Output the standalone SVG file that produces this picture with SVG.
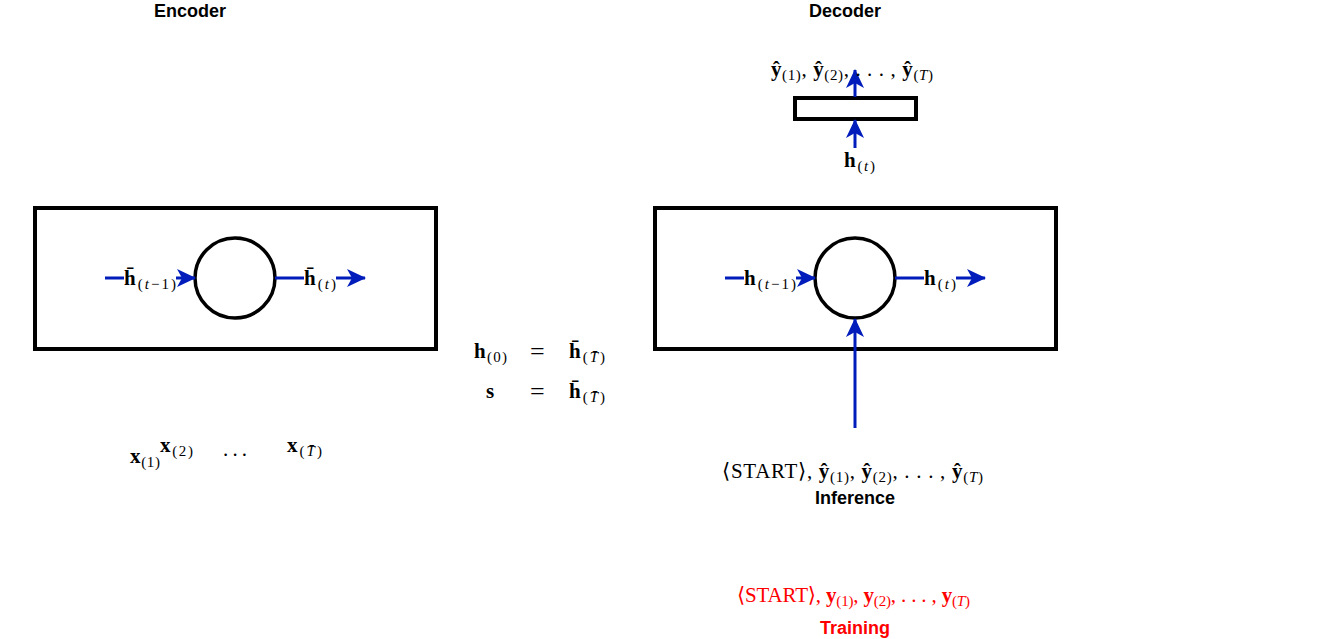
<svg xmlns="http://www.w3.org/2000/svg" width="1321" height="639" viewBox="0 0 1321 639">
<style>
.title{font-family:"Liberation Sans",Arial,sans-serif;font-weight:bold;font-size:18px;text-anchor:middle;fill:#000}
.m{font-family:"Liberation Serif","DejaVu Serif",serif;font-size:21px;fill:#000}
.b{font-weight:bold}
.i{font-style:italic}
.s{font-size:15px}
.eq{font-family:"Liberation Serif","DejaVu Serif",serif;font-size:26px;fill:#000}
.box{fill:#fff;stroke:#000;stroke-width:4}
.cell{fill:#fff;stroke:#000;stroke-width:3.5}
.edge{stroke:#001dbc;stroke-width:3;fill:none}
.red{fill:#ff0000}
</style>
<defs>
<marker id="ah" markerUnits="userSpaceOnUse" markerWidth="20" markerHeight="20" refX="18" refY="10" orient="auto">
<path d="M0,1 L19,10 L0,19 L5,10 z" fill="#001dbc"/>
</marker>
</defs>
<rect width="1321" height="639" fill="#fff"/>
<text class="title" x="190" y="17">Encoder</text>
<text class="title" x="845" y="17">Decoder</text>

<g id="encoder-box"><rect class="box" x="35" y="208" width="401" height="141"/></g>
<g id="encoder-cell"><circle class="cell" cx="235" cy="278" r="40"/></g>
<g id="decoder-box"><rect class="box" x="655" y="208" width="401" height="141"/></g>
<g id="decoder-cell"><circle class="cell" cx="855" cy="278" r="40"/></g>
<g id="output-layer"><rect class="box" x="795" y="98" width="121" height="21"/></g>

<g id="connectors">
<line class="edge" x1="105" y1="278" x2="195" y2="278" marker-end="url(#ah)"/>
<line class="edge" x1="275" y1="278" x2="365" y2="278" marker-end="url(#ah)"/>
<line class="edge" x1="725" y1="278" x2="815" y2="278" marker-end="url(#ah)"/>
<line class="edge" x1="895" y1="278" x2="985" y2="278" marker-end="url(#ah)"/>
<line class="edge" x1="855" y1="428" x2="855" y2="319" marker-end="url(#ah)"/>
<line class="edge" x1="855" y1="148" x2="855" y2="120" marker-end="url(#ah)"/>
<line class="edge" x1="855" y1="97" x2="855" y2="70" marker-end="url(#ah)"/>
</g>

<g id="labels">
<rect x="124" y="262" width="52" height="32" fill="#fff"/>
<text class="m" x="124" y="285" textLength="52"><tspan class="b">h̄</tspan><tspan class="s" dy="4">(</tspan><tspan class="s i">t</tspan><tspan class="s">−1)</tspan></text>
<rect x="304" y="262" width="32" height="32" fill="#fff"/>
<text class="m" x="304" y="285" textLength="32"><tspan class="b">h̄</tspan><tspan class="s" dy="4">(</tspan><tspan class="s i">t</tspan><tspan class="s">)</tspan></text>
<rect x="744" y="262" width="52" height="32" fill="#fff"/>
<text class="m" x="744" y="285" textLength="52"><tspan class="b">h</tspan><tspan class="s" dy="4">(</tspan><tspan class="s i">t</tspan><tspan class="s">−1)</tspan></text>
<rect x="924" y="262" width="32" height="32" fill="#fff"/>
<text class="m" x="924" y="285" textLength="32"><tspan class="b">h</tspan><tspan class="s" dy="4">(</tspan><tspan class="s i">t</tspan><tspan class="s">)</tspan></text>

<text class="m" x="844" y="167" textLength="31"><tspan class="b">h</tspan><tspan class="s" dy="4">(</tspan><tspan class="s i">t</tspan><tspan class="s">)</tspan></text>
<text class="m" x="771" y="76" textLength="162"><tspan class="b">ŷ</tspan><tspan class="s" dy="4">(1)</tspan><tspan dy="-4">, </tspan><tspan class="b">ŷ</tspan><tspan class="s" dy="4">(2)</tspan><tspan dy="-4">, . . . , </tspan><tspan class="b">ŷ</tspan><tspan class="s" dy="4">(</tspan><tspan class="s i">T</tspan><tspan class="s">)</tspan></text>

<text class="m" x="474" y="358" textLength="33"><tspan class="b">h</tspan><tspan class="s" dy="4">(0)</tspan></text>
<text class="eq" x="530" y="360">=</text>
<text class="m" x="569" y="358" textLength="36"><tspan class="b">h̄</tspan><tspan class="s" dy="4">(</tspan><tspan class="s i">T̄</tspan><tspan class="s">)</tspan></text>
<text class="m b" x="486" y="398">s</text>
<text class="eq" x="530" y="400">=</text>
<text class="m" x="569" y="398" textLength="36"><tspan class="b">h̄</tspan><tspan class="s" dy="4">(</tspan><tspan class="s i">T̄</tspan><tspan class="s">)</tspan></text>

<text class="m" x="130" y="463" textLength="30"><tspan class="b">x</tspan><tspan class="s" dy="4">(1)</tspan></text>
<text class="m" x="160" y="452" textLength="33"><tspan class="b">x</tspan><tspan class="s" dy="4">(2)</tspan></text>
<text class="m" x="223" y="456" textLength="24">. . .</text>
<text class="m" x="287" y="452" textLength="35"><tspan class="b">x</tspan><tspan class="s" dy="4">(</tspan><tspan class="s i">T̄</tspan><tspan class="s">)</tspan></text>

<text class="m" x="722" y="478" textLength="261">⟨START⟩, <tspan class="b">ŷ</tspan><tspan class="s" dy="4">(1)</tspan><tspan dy="-4">, </tspan><tspan class="b">ŷ</tspan><tspan class="s" dy="4">(2)</tspan><tspan dy="-4">, . . . , </tspan><tspan class="b">ŷ</tspan><tspan class="s" dy="4">(</tspan><tspan class="s i">T</tspan><tspan class="s">)</tspan></text>
<text class="title" x="855" y="504">Inference</text>

<text class="m red" x="737" y="602" textLength="233">⟨START⟩, <tspan class="b">y</tspan><tspan class="s" dy="4">(1)</tspan><tspan dy="-4">, </tspan><tspan class="b">y</tspan><tspan class="s" dy="4">(2)</tspan><tspan dy="-4">, . . . , </tspan><tspan class="b">y</tspan><tspan class="s" dy="4">(</tspan><tspan class="s i">T</tspan><tspan class="s">)</tspan></text>
<text class="title red" x="855" y="634">Training</text>
</g>
</svg>
